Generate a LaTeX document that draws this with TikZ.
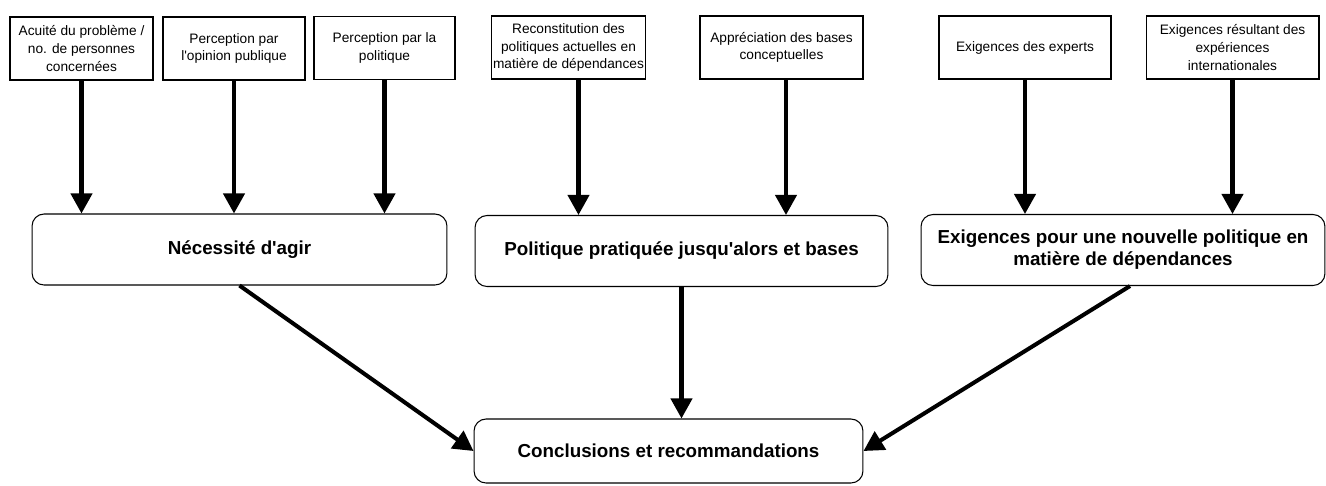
\documentclass[tikz,border=0pt]{standalone}
\usepackage{fontspec}
\setmainfont{Liberation Sans}
\usetikzlibrary{arrows.meta}

\begin{document}
\begin{tikzpicture}[x=0.02cm, y=-0.02cm,
  >={Triangle[width=0.42cm,length=0.4cm]},
  petit/.style={draw, line width=0.6pt, align=center, inner sep=1pt, minimum height=1.26cm, font=\fontsize{7.8}{10}\selectfont},
  grand/.style={draw, line width=0.6pt, rounded corners=0.24cm, align=center, minimum height=1.42cm, font=\bfseries\fontsize{10.7}{12.5}\selectfont},
  fleche/.style={->, line width=2.3pt}]
\useasboundingbox (0,0) rectangle (1326,485);

\path
(81.5,48.5)   node[petit, minimum width=2.86cm] (f1) {Acuité du problème /\\ no. de personnes\\ concernées}
(234,48.5)    node[petit, minimum width=2.84cm] (f2) {Perception par\\ l\textquotesingle opinion publique}
(384.5,48)    node[petit, minimum width=2.82cm] (f3) {Perception par la\\ politique}
(568.5,47.5)  node[petit, minimum width=3.06cm] (f4) {Reconstitution des\\ politiques actuelles en\\ matière de dépendances}
(781.5,47.5)  node[petit, minimum width=3.26cm] (f5) {Appréciation des bases\\ conceptuelles}
(1025,47.5)   node[petit, minimum width=3.44cm] (f6) {Exigences des experts}
(1232.5,47.5) node[petit, minimum width=3.46cm] (f7) {Exigences résultant des\\ expériences\\ internationales}

(239.5,249.5) node[grand, minimum width=8.3cm]  (m1) {Nécessité d\textquotesingle agir}
(681.5,251)   node[grand, minimum width=8.26cm] (m2) {Politique pratiquée jusqu\textquotesingle alors et bases}
(1123,250)    node[grand, minimum width=8.08cm] (m3) {Exigences pour une nouvelle politique en\\ matière de dépendances}

(668.5,451)   node[grand, minimum width=7.78cm, minimum height=1.28cm] (c) {Conclusions et recommandations};

\draw[fleche] (f1.south) -- (f1.south |- m1.north);
\draw[fleche] (f2.south) -- (f2.south |- m1.north);
\draw[fleche] (f3.south) -- (f3.south |- m1.north);
\draw[fleche] ([xshift=0.2cm]f4.south) -- ([xshift=0.2cm]f4.south |- m2.north);
\draw[fleche] ([xshift=0.09cm]f5.south) -- ([xshift=0.09cm]f5.south |- m2.north);
\draw[fleche] (f6.south) -- (f6.south |- m3.north);
\draw[fleche] (f7.south) -- (f7.south |- m3.north);

\draw[fleche] (m1.south) -- (c.west);
\draw[fleche] (m2.south) -- (m2.south |- c.north);
\draw[fleche] ([xshift=0.14cm]m3.south) -- (c.east);

% \draw[dashed] (0,0) rectangle (1326,485);
\end{tikzpicture}
\end{document}
